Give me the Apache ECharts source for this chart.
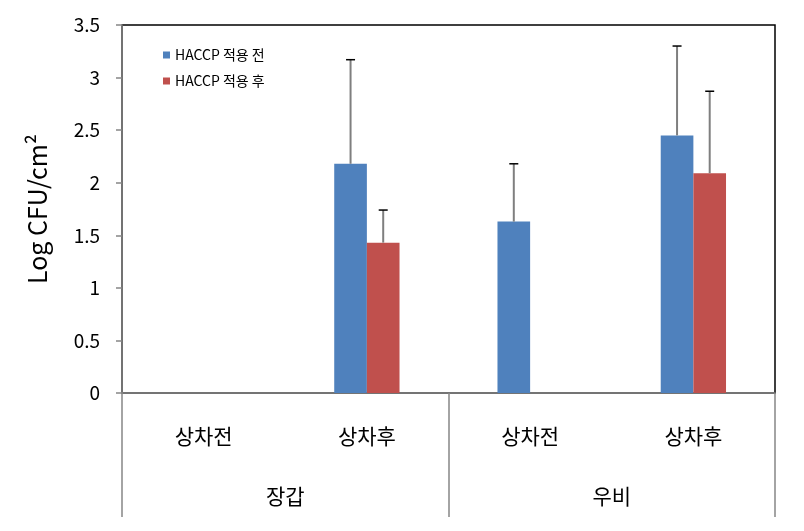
<!DOCTYPE html>
<html>
<head>
<meta charset="utf-8">
<script src="https://cdn.jsdelivr.net/npm/echarts@6/dist/echarts.min.js"></script>
<style>html,body{margin:0;padding:0;background:#fff}#c{width:804px;height:531px}</style>
</head>
<body>
<div id="c"></div>
<script>
const subCategories = ['상차전', '상차후', '상차전', '상차후'];
const groups = ['장갑', '우비'];
const seriesNames = ['HACCP 적용 전', 'HACCP 적용 후'];
const beforeValues = [null, 2.18, 1.63, 2.45];
const afterValues = [null, 1.43, null, 2.09];
const beforeErrors = [null, 0.99, 0.55, 0.85];
const afterErrors = [null, 0.31, null, 0.78];
const yTicks = [0, 0.5, 1, 1.5, 2, 2.5, 3, 3.5];

const FONT = '"Noto Sans CJK KR", "Noto Sans", sans-serif';
const chart = echarts.init(document.getElementById('c'), null, {renderer: 'canvas'});

function errData(vals, errs) {
  const out = [];
  vals.forEach((v, i) => { if (v != null && errs[i] != null) out.push([i, v, errs[i]]); });
  return out;
}
function errSeries(vals, errs, side) {
  return {
    type: 'custom',
    xAxisIndex: 0, yAxisIndex: 0,
    z: 5,
    data: errData(vals, errs),
    renderItem: function (params, api) {
      const i = api.value(0), v = api.value(1), e = api.value(2);
      const band = api.size([1, 0])[0];
      const base = api.coord([i, v]);
      const top = api.coord([i, v + e]);
      const x = base[0] + side * band * 0.1;
      return {
        type: 'group',
        children: [
          {type: 'line', shape: {x1: x, y1: base[1], x2: x, y2: top[1]}, style: {stroke: '#7f7f7f', lineWidth: 2}},
          {type: 'line', shape: {x1: x - 4.5, y1: top[1], x2: x + 4.5, y2: top[1]}, style: {stroke: '#000', lineWidth: 1.5}}
        ]
      };
    }
  };
}

chart.setOption({
  animation: false,
  backgroundColor: '#fff',
  textStyle: {fontFamily: FONT},
  grid: {left: 122, right: 29, top: 25, bottom: 138, show: true, borderColor: '#000', borderWidth: 1.5, backgroundColor: 'transparent'},
  legend: {
    data: seriesNames,
    orient: 'vertical',
    left: 158, top: 43,
    itemWidth: 7, itemHeight: 7, itemGap: 12,
    icon: 'rect',
    textStyle: {fontFamily: FONT, fontSize: 14, color: '#000', padding: [7, 0, 0, 0]}
  },
  xAxis: [
    {
      type: 'category', data: subCategories, position: 'bottom',
      axisLine: {show: true, lineStyle: {color: '#868686', width: 1.5}},
      axisTick: {show: false},
      axisLabel: {fontFamily: FONT, fontSize: 21, color: '#000', margin: 33, interval: 0}
    },
    {
      type: 'category', data: groups, position: 'bottom',
      axisLine: {show: false},
      axisTick: {show: true, length: 124, lineStyle: {color: '#868686', width: 1.5}},
      axisLabel: {fontFamily: FONT, fontSize: 21, color: '#000', margin: 93, interval: 0}
    }
  ],
  yAxis: {
    type: 'value', min: 0, max: 3.5, interval: 0.5,
    name: 'Log CFU/cm²', nameLocation: 'middle', nameGap: 72,
    nameTextStyle: {fontFamily: FONT, fontSize: 25, color: '#000'},
    axisLine: {show: true, lineStyle: {color: '#868686', width: 1.5}},
    axisTick: {show: true, length: 6, lineStyle: {color: '#868686', width: 1.5}},
    splitLine: {show: false},
    axisLabel: {fontFamily: FONT, fontSize: 19, color: '#000', margin: 22,
      formatter: v => yTicks.includes(v) ? String(v) : ''}
  },
  series: [
    {name: seriesNames[0], type: 'bar', data: beforeValues, barWidth: '20%', barGap: '0%', itemStyle: {color: '#4F81BD'}},
    {name: seriesNames[1], type: 'bar', data: afterValues, barWidth: '20%', barGap: '0%', itemStyle: {color: '#C0504D'}},
    errSeries(beforeValues, beforeErrors, -1),
    errSeries(afterValues, afterErrors, 1)
  ]
});
</script>
</body>
</html>
